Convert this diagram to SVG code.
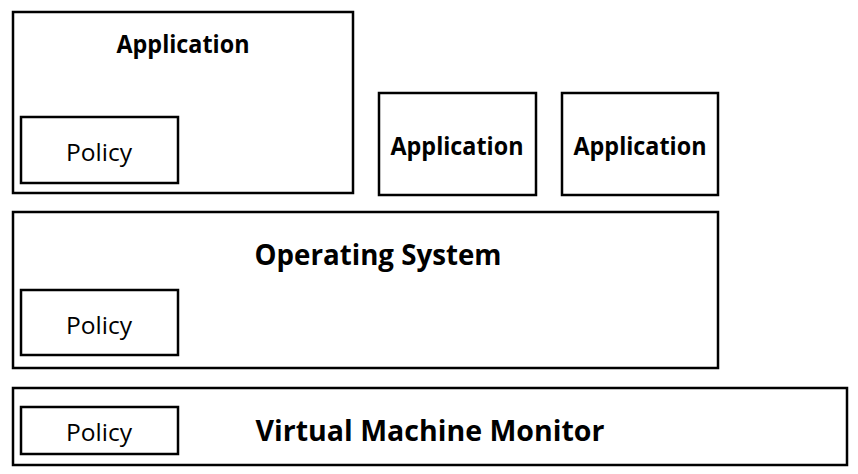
<svg xmlns="http://www.w3.org/2000/svg" width="858" height="474" viewBox="0 0 858 474">
<style>
rect{fill:#fff;stroke:#000;stroke-width:2.5}
.b{font-family:"Open Sans","Liberation Sans",sans-serif;font-weight:bold;font-size:25px;text-anchor:middle}
.n{font-family:"Open Sans","Liberation Sans",sans-serif;font-size:24px;text-anchor:middle}
.l{font-size:29px}
</style>
<rect width="858" height="474" style="stroke:none"/>
<g id="app1">
<rect x="13" y="12" width="340" height="181"/>
<text class="b" x="183" y="53" textLength="133" lengthAdjust="spacingAndGlyphs">Application</text>
</g>
<g id="policy1">
<rect x="21" y="117" width="157" height="66"/>
<text class="n" x="99" y="161" textLength="66" lengthAdjust="spacingAndGlyphs">Policy</text>
</g>
<g id="app2">
<rect x="379" y="93" width="157" height="102"/>
<text class="b" x="457" y="155" textLength="133" lengthAdjust="spacingAndGlyphs">Application</text>
</g>
<g id="app3">
<rect x="562" y="93" width="156" height="102"/>
<text class="b" x="640" y="155" textLength="133" lengthAdjust="spacingAndGlyphs">Application</text>
</g>
<g id="os">
<rect x="13" y="212" width="705" height="156"/>
<text class="b l" x="378" y="265" textLength="247" lengthAdjust="spacingAndGlyphs">Operating System</text>
</g>
<g id="policy2">
<rect x="21" y="290" width="157" height="65"/>
<text class="n" x="99" y="334" textLength="66" lengthAdjust="spacingAndGlyphs">Policy</text>
</g>
<g id="vmm">
<rect x="13" y="388" width="834" height="77"/>
<text class="b l" x="430" y="441" textLength="349" lengthAdjust="spacingAndGlyphs">Virtual Machine Monitor</text>
</g>
<g id="policy3">
<rect x="21" y="407" width="157" height="47"/>
<text class="n" x="99" y="441" textLength="66" lengthAdjust="spacingAndGlyphs">Policy</text>
</g>
<g id="connectors"/>
</svg>
